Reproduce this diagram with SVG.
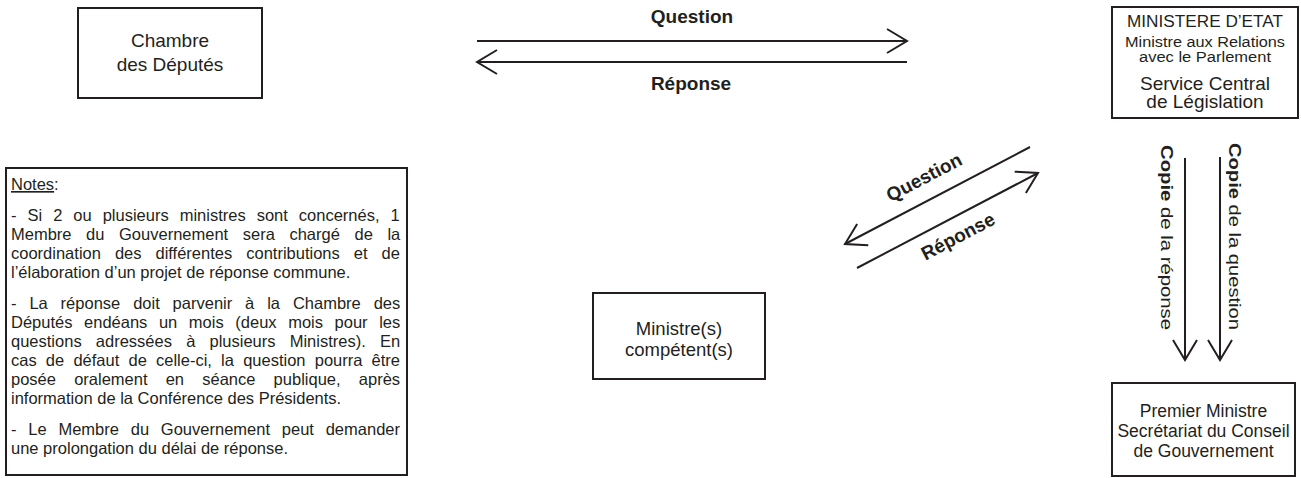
<svg xmlns="http://www.w3.org/2000/svg" width="1301" height="478" viewBox="0 0 1301 478">
<style>
.box{fill:#fff;stroke:#231f20;stroke-width:2}
.t{font-family:"Liberation Sans",Arial,sans-serif;fill:#231f20}
.c{text-anchor:middle}
.b{font-weight:bold}
.n{font-family:"Liberation Sans",Arial,sans-serif;fill:#231f20;font-size:16.5px}
.ln{stroke:#231f20;stroke-width:2;fill:none}
</style>
<defs>
<marker id="ah" markerUnits="userSpaceOnUse" markerWidth="30" markerHeight="30" viewBox="-25 -15 30 30" refX="0" refY="0" orient="auto">
<path d="M-20,-12 L0,0 L-20,12" fill="none" stroke="#231f20" stroke-width="2"/>
</marker>
</defs>
<rect width="1301" height="478" fill="#fff"/>
<g id="chambre">
<rect class="box" x="78" y="8" width="184" height="90"/>
<text class="t c" x="170" y="47" font-size="19">Chambre</text>
<text class="t c" x="170" y="71" font-size="19">des Députés</text>
</g>
<g id="ministere">
<rect class="box" x="1112" y="7" width="186" height="111"/>
<text class="t c" x="1205" y="27" font-size="16" textLength="156" lengthAdjust="spacingAndGlyphs">MINISTERE D’ETAT</text>
<text class="t c" x="1205" y="47" font-size="14" textLength="160" lengthAdjust="spacingAndGlyphs">Ministre aux Relations</text>
<text class="t c" x="1205" y="62" font-size="14" textLength="132" lengthAdjust="spacingAndGlyphs">avec le Parlement</text>
<text class="t c" x="1205" y="90" font-size="19">Service Central</text>
<text class="t c" x="1205" y="108" font-size="19">de Législation</text>
</g>
<g id="ministres">
<rect class="box" x="593" y="293" width="172" height="86"/>
<text class="t c" x="679" y="335" font-size="18.5">Ministre(s)</text>
<text class="t c" x="679" y="356" font-size="18.5">compétent(s)</text>
</g>
<g id="premier">
<rect class="box" x="1112" y="383" width="183" height="93"/>
<text class="t c" x="1203.5" y="417" font-size="17.5">Premier Ministre</text>
<text class="t c" x="1203.5" y="437" font-size="17.5">Secrétariat du Conseil</text>
<text class="t c" x="1203.5" y="457" font-size="17.5">de Gouvernement</text>
</g>
<g id="notes">
<rect class="box" x="6" y="168" width="401" height="307"/>
<text class="n" x="11" y="190"><tspan text-decoration="underline">Notes</tspan>:</text>
<text class="n" x="11" y="221" word-spacing="6.4">- Si 2 ou plusieurs ministres sont concernés, 1</text>
<text class="n" x="11" y="240" word-spacing="10">Membre du Gouvernement sera chargé de la</text>
<text class="n" x="11" y="259" word-spacing="9.4">coordination des différentes contributions et de</text>
<text class="n" x="11" y="278">l’élaboration d’un projet de réponse commune.</text>
<text class="n" x="11" y="309" word-spacing="8.3">- La réponse doit parvenir à la Chambre des</text>
<text class="n" x="11" y="328" word-spacing="7">Députés endéans un mois (deux mois pour les</text>
<text class="n" x="11" y="347" word-spacing="9.6">questions adressées à plusieurs Ministres). En</text>
<text class="n" x="11" y="366" word-spacing="4.6">cas de défaut de celle-ci, la question pourra être</text>
<text class="n" x="11" y="385" word-spacing="13.6">posée oralement en séance publique, après</text>
<text class="n" x="11" y="404">information de la Conférence des Présidents.</text>
<text class="n" x="11" y="435" word-spacing="7.2">- Le Membre du Gouvernement peut demander</text>
<text class="n" x="11" y="454">une prolongation du délai de réponse.</text>
</g>
<g id="connectors">
<line class="ln" x1="477" y1="41" x2="907" y2="41" marker-end="url(#ah)"/>
<line class="ln" x1="907" y1="62" x2="477" y2="62" marker-end="url(#ah)"/>
<line class="ln" x1="1030" y1="147" x2="845" y2="244" marker-end="url(#ah)"/>
<line class="ln" x1="857" y1="268" x2="1038" y2="173" marker-end="url(#ah)"/>
<line class="ln" x1="1185" y1="158" x2="1185" y2="360" marker-end="url(#ah)"/>
<line class="ln" x1="1220" y1="157" x2="1220" y2="360" marker-end="url(#ah)"/>
<text class="t c b" x="692" y="23" font-size="19">Question</text>
<text class="t c b" x="691" y="90" font-size="19">Réponse</text>
<text class="t c b" font-size="19" transform="translate(927,183) rotate(-27.7)">Question</text>
<text class="t c b" font-size="19" transform="translate(961,242) rotate(-27.7)">Réponse</text>
<text class="t" font-size="16" transform="translate(1161,145) rotate(90)" textLength="185" lengthAdjust="spacingAndGlyphs"><tspan class="b">Copie</tspan> de la réponse</text>
<text class="t" font-size="16" transform="translate(1229,143) rotate(90)" textLength="187" lengthAdjust="spacingAndGlyphs"><tspan class="b">Copie</tspan> de la question</text>
</g>
</svg>
